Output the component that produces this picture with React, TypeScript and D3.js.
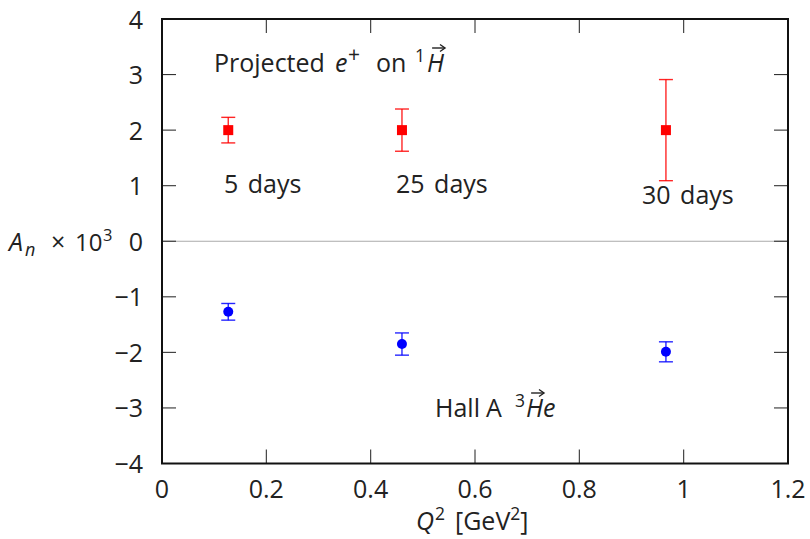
import React, { useEffect, useRef } from "react";
import * as d3 from "d3";

const q2Values = [0.127, 0.46, 0.966];
const projectedValues = [2, 2, 2];
const projectedErrors = [0.23, 0.38, 0.91];
const hallAValues = [-1.27, -1.85, -1.99];
const hallAErrors = [0.15, 0.2, 0.18];
const xTicks = [0, 0.2, 0.4, 0.6, 0.8, 1, 1.2];
const yTicks = [-4, -3, -2, -1, 0, 1, 2, 3, 4];
const dayLabels = ["5 days", "25 days", "30 days"];

const W = 810;
const H = 539;
const FONT = "'Open Sans', Lato, sans-serif";

export default function App() {
  const ref = useRef<SVGSVGElement>(null);

  useEffect(() => {
    const svg = d3.select(ref.current);
    svg.selectAll("*").remove();
    const left = 162, right = 788, top = 19, bottom = 463.5;
    const x = d3.scaleLinear().domain([0, 1.2]).range([left, right]);
    const y = d3.scaleLinear().domain([-4, 4]).range([bottom, top]);
    const fmt = (v: number) => (v < 0 ? "\u2212" + Math.abs(v) : String(v));
    const tl = 14;

    svg.append("rect").attr("width", W).attr("height", H).attr("fill", "#fff");

    svg.append("line").attr("x1", left).attr("x2", right).attr("y1", y(0)).attr("y2", y(0))
      .attr("stroke", "#aaa").attr("stroke-width", 1.2);

    const tg = svg.append("g").attr("stroke", "#333").attr("stroke-width", 1.1);
    xTicks.slice(1, -1).forEach((t) => {
      tg.append("line").attr("x1", x(t)).attr("x2", x(t)).attr("y1", bottom).attr("y2", bottom - tl);
      tg.append("line").attr("x1", x(t)).attr("x2", x(t)).attr("y1", top).attr("y2", top + tl);
    });
    yTicks.slice(1, -1).forEach((t) => {
      tg.append("line").attr("x1", left).attr("x2", left + tl).attr("y1", y(t)).attr("y2", y(t));
      tg.append("line").attr("x1", right).attr("x2", right - tl).attr("y1", y(t)).attr("y2", y(t));
    });

    svg.append("rect").attr("x", left).attr("y", top).attr("width", right - left).attr("height", bottom - top)
      .attr("fill", "none").attr("stroke", "#111").attr("stroke-width", 2);

    const lab = svg.append("g").attr("font-family", FONT).attr("font-size", 25)
      .attr("font-weight", 400).attr("fill", "#222");
    xTicks.forEach((t) => {
      lab.append("text").attr("x", x(t)).attr("y", 498).attr("text-anchor", "middle").text(fmt(t));
    });
    yTicks.forEach((t) => {
      lab.append("text").attr("x", 143).attr("y", y(t) + 9.5).attr("text-anchor", "end").text(fmt(t));
    });

    const SUP = 17.5;
    const xt = lab.append("text").attr("y", 530);
    xt.append("tspan").attr("x", 416).attr("font-style", "italic").text("Q");
    xt.append("tspan").attr("x", 435).attr("font-size", SUP).attr("dy", -10).text("2");
    xt.append("tspan").attr("x", 455).attr("dy", 10).text("[GeV");
    xt.append("tspan").attr("font-size", SUP).attr("dy", -10).text("2");
    xt.append("tspan").attr("dy", 10).text("]");

    const yt = lab.append("text").attr("y", 251);
    yt.append("tspan").attr("x", 9).attr("font-style", "italic").text("A");
    yt.append("tspan").attr("x", 25).attr("font-style", "italic").attr("font-size", 18).attr("dy", 5).text("n");
    yt.append("tspan").attr("x", 51).attr("dy", -5).text("\u00d7");
    yt.append("tspan").attr("x", 75).attr("font-size", 24).text("10");
    yt.append("tspan").attr("x", 103).attr("font-size", 16.5).attr("dy", -10).text("3");

    const cap = 7;
    const drawErr = (vals: number[], errs: number[], color: string) => {
      const g = svg.append("g").attr("stroke", color).attr("stroke-width", 1.4).attr("stroke-opacity", 0.85);
      vals.forEach((v, i) => {
        const cx = x(q2Values[i]);
        g.append("line").attr("x1", cx).attr("x2", cx).attr("y1", y(v + errs[i])).attr("y2", y(v - errs[i]));
        g.append("line").attr("x1", cx - cap).attr("x2", cx + cap).attr("y1", y(v + errs[i])).attr("y2", y(v + errs[i]));
        g.append("line").attr("x1", cx - cap).attr("x2", cx + cap).attr("y1", y(v - errs[i])).attr("y2", y(v - errs[i]));
      });
    };
    drawErr(projectedValues, projectedErrors, "#ff0000");
    drawErr(hallAValues, hallAErrors, "#0000ff");
    const sq = 10;
    svg.append("g").selectAll("rect").data(projectedValues).join("rect")
      .attr("x", (d, i) => x(q2Values[i]) - sq / 2).attr("y", (d) => y(d) - sq / 2)
      .attr("width", sq).attr("height", sq).attr("fill", "#ff0000");
    svg.append("g").selectAll("circle").data(hallAValues).join("circle")
      .attr("cx", (d, i) => x(q2Values[i])).attr("cy", (d) => y(d)).attr("r", 5).attr("fill", "#0000ff");

    const dayPos = [[224, 193], [396, 193], [642, 204]];
    dayLabels.forEach((t, i) => {
      lab.append("text").attr("x", dayPos[i][0]).attr("y", dayPos[i][1]).attr("word-spacing", 3).text(t);
    });

    const arrowOver = (textSel: any, idx: number) => {
      const node = textSel.node() as SVGTextElement;
      try {
        const ext = node.getExtentOfChar(idx);
        const x0 = ext.x + ext.width * 0.3, x1 = ext.x + ext.width + 1;
        const yy = ext.y + 3;
        const g = svg.append("g").attr("stroke", "#222").attr("stroke-width", 1.4).attr("fill", "none");
        g.append("line").attr("x1", x0).attr("x2", x1).attr("y1", yy).attr("y2", yy);
        g.append("path").attr("d", `M${x1 - 5},${yy - 3.5} L${x1},${yy} L${x1 - 5},${yy + 3.5}`);
      } catch (e) {}
    };

    const a1 = lab.append("text").attr("y", 72);
    a1.append("tspan").attr("x", 214).text("Projected");
    a1.append("tspan").attr("x", 335).attr("font-style", "italic").text("e");
    a1.append("tspan").attr("x", 348).attr("font-size", 21).attr("dy", -10).text("+");
    a1.append("tspan").attr("x", 376).attr("dy", 10).text("on");
    a1.append("tspan").attr("x", 415).attr("font-size", SUP).attr("dy", -10).text("1");
    a1.append("tspan").attr("x", 427).attr("font-style", "italic").attr("dy", 10).text("H");
    arrowOver(a1, "Projectede+on1".length);

    const a2 = lab.append("text").attr("y", 417);
    a2.append("tspan").attr("x", 435).text("Hall");
    a2.append("tspan").attr("x", 486).text("A");
    a2.append("tspan").attr("x", 515).attr("font-size", SUP).attr("dy", -10).text("3");
    a2.append("tspan").attr("x", 526).attr("font-style", "italic").attr("dy", 10).text("He");
    arrowOver(a2, "HallA3".length);
  }, []);

  return (
    <svg ref={ref} width={W} height={H}
      style={{ display: "block", position: "absolute", left: 0, top: 0 }} />
  );
}
